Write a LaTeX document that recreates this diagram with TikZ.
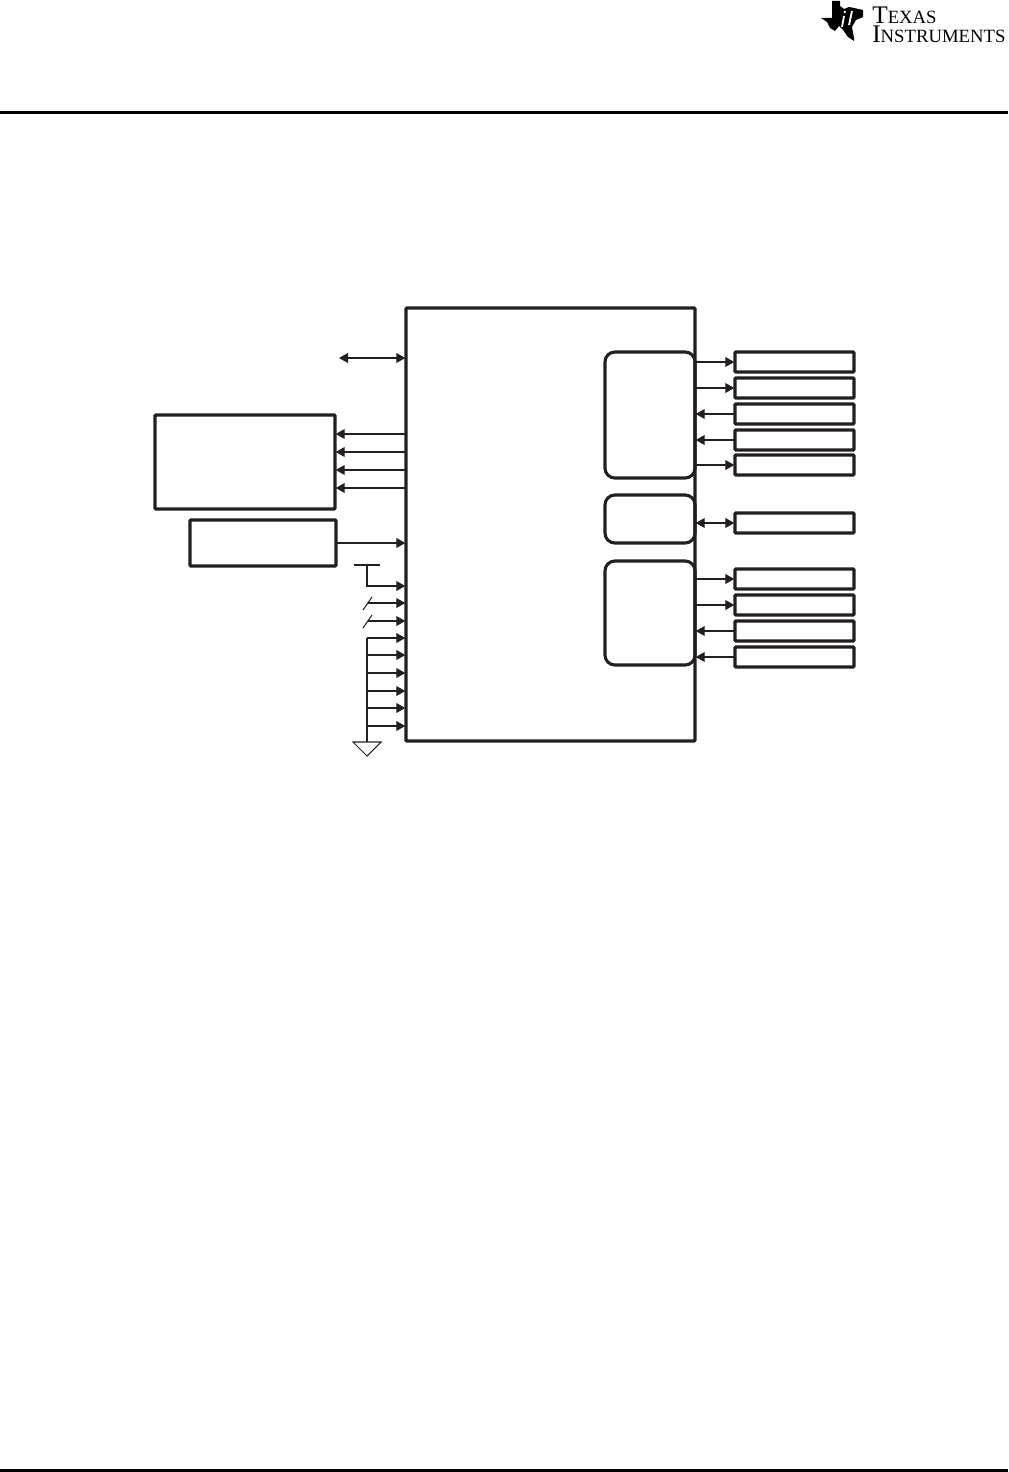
\documentclass[tikz,border=0pt]{standalone}
\usepackage{fontspec}
\setmainfont{Liberation Serif}
\usetikzlibrary{arrows.meta}
\definecolor{InkBlack}{RGB}{35,31,32}
\tikzset{
  blockbox/.style={draw=InkBlack, line width=2.2pt, rounded corners=0.6pt, inner sep=0pt, outer sep=0.5pt},
  roundbox/.style={blockbox, rounded corners=7pt},
  pinbox/.style={blockbox, minimum width=119\pxunit, minimum height=20\pxunit},
  sig/.style={draw=InkBlack, line width=0.75pt, -{Triangle[length=6.4pt,width=7pt]}},
  sigboth/.style={draw=InkBlack, line width=0.75pt, {Triangle[length=6.4pt,width=7pt]}-{Triangle[length=6.4pt,width=7pt]}},
  wire/.style={draw=InkBlack, line width=0.75pt},
  rulebar/.style={fill=black, draw=none, inner sep=0pt, minimum width=1008\pxunit},
}
\def\pxunit{*0.025cm}
\begin{document}
\begin{tikzpicture}[x=0.025cm,y=-0.025cm]
  \useasboundingbox (0,0) rectangle (1008,1472);

  % page furniture
  \node[rulebar, minimum height=3\pxunit] (toprule) at (504,112.5) {};
  \node[rulebar, minimum height=3\pxunit] (botrule) at (504,1470.5) {};

  \fill[black] (832,1) -- (840,1) -- (840,6) -- (844,9) -- (849,7) -- (854,8) -- (863,10) -- (863,17)
    -- (856,20) -- (852,27) -- (854,38) -- (854,41) -- (848,37) -- (843,30) -- (839,26) -- (835,31)
    -- (830,28) -- (827,22) -- (821,18) -- (832,18) -- cycle;
  \draw[white, line width=1.3pt] (844,16) -- (842,27) (845,11) -- (844.6,13) (852,11) -- (849,25);
  \node[anchor=base west, inner sep=0pt] (logotop) at (872,24)
    {\fontsize{18pt}{18pt}\selectfont T\fontsize{13.3pt}{13.3pt}\selectfont EXAS};
  \node[anchor=base west, inner sep=0pt] (logobot) at (872,43)
    {\fontsize{18pt}{18pt}\selectfont I\fontsize{13.3pt}{13.3pt}\selectfont NSTRUMENTS};

  % blocks
  \node[blockbox, minimum width=289\pxunit, minimum height=433\pxunit] (device) at (550.5,524.5) {};
  \node[blockbox, minimum width=180\pxunit, minimum height=94\pxunit] (memory) at (245,462) {};
  \node[blockbox, minimum width=146\pxunit, minimum height=46\pxunit] (clock) at (263,543) {};
  \node[roundbox, minimum width=90\pxunit, minimum height=126\pxunit] (porta) at (650,415) {};
  \node[roundbox, minimum width=90\pxunit, minimum height=48\pxunit] (portb) at (650,519) {};
  \node[roundbox, minimum width=90\pxunit, minimum height=104\pxunit] (portc) at (650,613) {};

  % pins on the right
  \foreach \name/\y in {pa/362,pb/388,pc/414,pd/440,pe/465,pf/523,pg/579,ph/605,pi/631,pj/657} {
    \node[pinbox] (\name) at (794.5,\y) {};
  }
  \foreach \name in {pa,pb,pe,pg,ph} {
    \draw[sig] (device.east |- \name) -- (\name);
  }
  \foreach \name in {pc,pd,pi,pj} {
    \draw[sig] (\name) -- (device.east |- \name);
  }
  \draw[sigboth] (device.east |- pf) -- (pf);

  % left side
  \coordinate (hostend) at (339,358);
  \draw[sigboth] (hostend) -- (device.west |- hostend);
  \foreach \y in {434,452,470,488} {
    \draw[sig] (device.west |- 0,\y) -- (memory.east |- 0,\y);
  }
  \draw[sig] (clock.east) -- (device.west |- clock.east);

  % strap pins
  \coordinate (barl) at (354,565);
  \coordinate (barr) at (380,565);
  \coordinate (barm) at (367,565);
  \draw[wire] (barl) -- (barr);
  \draw[sig] (barm) |- (device.west |- 0,586);
  \foreach \y in {603,621} {
    \coordinate (swa\y) at (363,\y+7);
    \coordinate (swb\y) at (372,\y-6);
    \coordinate (swc\y) at (368,\y);
    \draw[wire] (swa\y) -- (swb\y);
    \draw[sig] (swc\y) -- (device.west |- swc\y);
  }

  % grounded pins
  \coordinate (gndtop) at (367,638);
  \coordinate (gndbot) at (367,742);
  \draw[wire] (gndtop) -- (gndbot);
  \foreach \y in {638,655,673,691,708,726} {
    \draw[sig] (gndtop |- 0,\y) -- (device.west |- 0,\y);
  }
  \draw[wire] (353,742) -- (381,742) -- (367,756) -- cycle;
\end{tikzpicture}
\end{document}
